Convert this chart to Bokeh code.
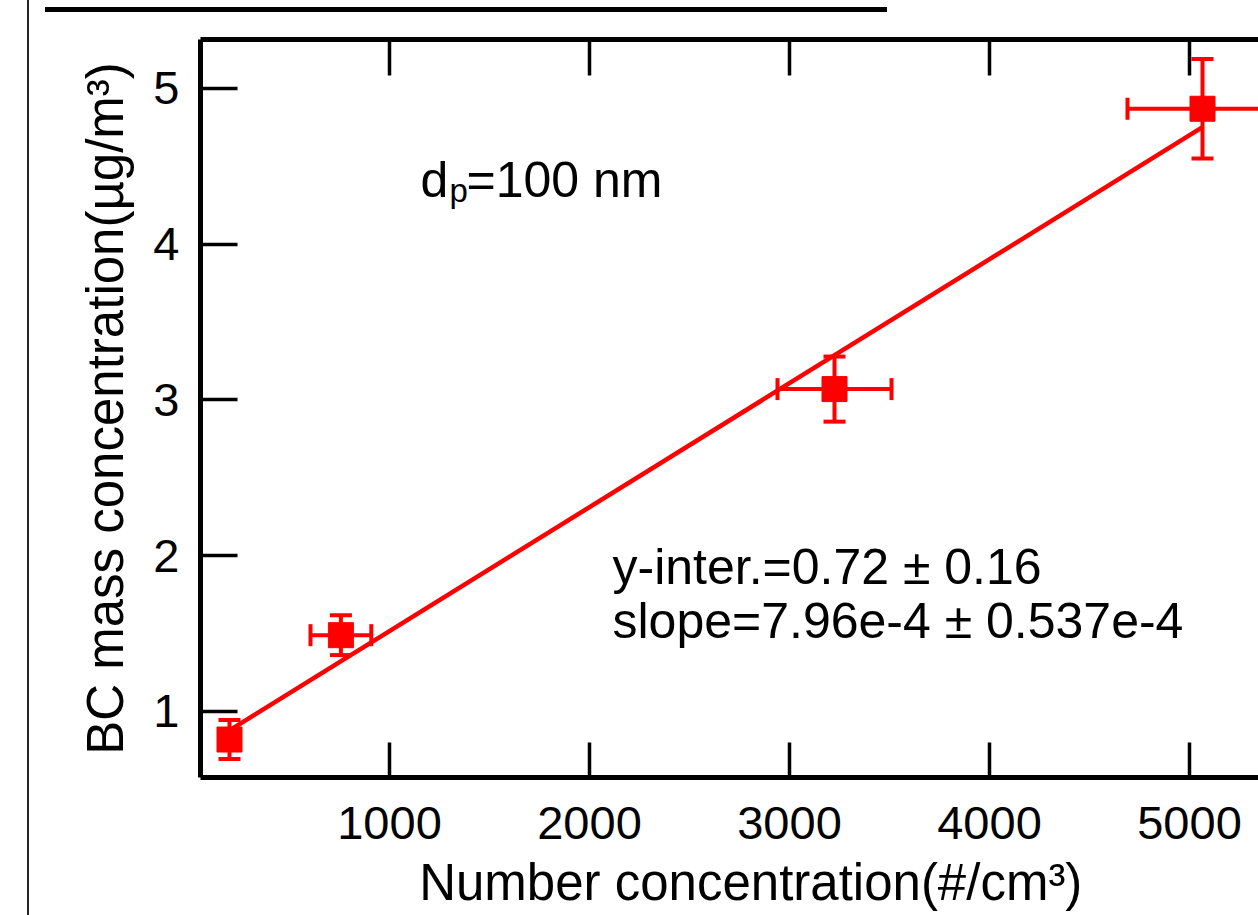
from bokeh.plotting import figure
from bokeh.models import (Range1d, LinearAxis, FixedTicker, Whisker, TeeHead,
                          ColumnDataSource, Label)
from bokeh.embed import file_html
from bokeh.resources import INLINE

# ---- data ----
number_conc = [200, 757, 3225, 5065]        # #/cm3
number_err = [30, 152, 285, 375]
bc_mass = [0.82, 1.49, 3.07, 4.87]          # ug/m3
bc_err = [0.125, 0.128, 0.209, 0.32]
fit_intercept = 0.72
fit_slope = 7.96e-4
x_ticks = [1000, 2000, 3000, 4000, 5000]
y_ticks = [1, 2, 3, 4, 5]
x_title = "\u00a0\u00a0\u00a0Number concentration(#/cm\u00b3)"
y_title = "BC mass concentration(\u00b5g/m\u00b3)"

# ---- layout ----
W, H = 1258, 915
X0, X1 = 55, 5345
Y0, Y1 = 0.5762, 5.3146
FONT = "Liberation Sans"

def dx(px):  # canvas pixel -> data x
    return X0 + (px - 200) / (1258 - 200) * (X1 - X0)

def dy(py):  # canvas pixel -> data y
    return Y1 - (py - 39) / (777 - 39) * (Y1 - Y0)

p = figure(width=W, height=H, output_backend="svg", toolbar_location=None,
           x_range=Range1d(X0, X1), y_range=Range1d(Y0, Y1),
           x_axis_location=None, y_axis_location=None,
           min_border_left=200, min_border_right=0, min_border_top=39,
           min_border_bottom=138,
           styles={"background-color": "white",
                   "background-image": "linear-gradient(#262626,#262626), linear-gradient(#000,#000)",
                   "background-size": "2px 100%, 842px 5px",
                   "background-position": "27px 0px, 45px 7px",
                   "background-repeat": "no-repeat"})
p.outline_line_color = None
p.xgrid.visible = False
p.ygrid.visible = False
p.background_fill_color = "white"
p.border_fill_color = None

def style_axis(ax, ticks, tick_in, show_labels=True, standoff=10):
    ax.ticker = FixedTicker(ticks=ticks)
    ax.axis_line_width = 5
    ax.axis_line_color = "black"
    ax.major_tick_in = tick_in
    ax.major_tick_out = 0
    ax.major_tick_line_width = 3.5
    ax.minor_tick_line_color = None
    ax.major_label_text_font = FONT
    ax.major_label_standoff = standoff
    ax.axis_label_text_font = FONT
    ax.axis_label_text_font_style = "normal"
    ax.axis_label_text_font_size = "51px"
    ax.axis_label_text_color = "black"
    if show_labels:
        ax.major_label_text_font_size = "47px"
        ax.major_label_text_color = "black"
    else:
        ax.major_label_text_font_size = "0px"
        ax.major_label_text_color = None

left = LinearAxis(axis_label=y_title)
style_axis(left, y_ticks, 37, True, 21)
left.axis_label_standoff = 16
p.add_layout(left, "left")
bottom = LinearAxis(axis_label=x_title)
style_axis(bottom, x_ticks, 35, True, 29)
bottom.axis_label_standoff = 12
p.add_layout(bottom, "below")
top = LinearAxis()
style_axis(top, x_ticks, 36, False, 0)
p.add_layout(top, "above")

# ---- data glyphs ----
src = ColumnDataSource(dict(
    x=number_conc, y=bc_mass,
    xl=[a - b for a, b in zip(number_conc, number_err)],
    xu=[a + b for a, b in zip(number_conc, number_err)],
    yl=[a - b for a, b in zip(bc_mass, bc_err)],
    yu=[a + b for a, b in zip(bc_mass, bc_err)],
))

def tee():
    return TeeHead(size=22, line_color="red", line_width=4)

p.add_layout(Whisker(source=src, base="x", lower="yl", upper="yu", dimension="height",
                     line_color="red", line_width=4, upper_head=tee(), lower_head=tee()))
p.add_layout(Whisker(source=src, base="y", lower="xl", upper="xu", dimension="width",
                     line_color="red", line_width=4, upper_head=tee(), lower_head=tee()))

fx = [min(number_conc), max(number_conc)]
fy = [fit_intercept + fit_slope * v for v in fx]
p.line(fx, fy, line_color="red", line_width=4.5)

p.scatter("x", "y", source=src, marker="square", size=25, fill_color="red",
          line_color="red")

# ---- texts ----
def lab(text, px, py, size):
    p.add_layout(Label(x=dx(px), y=dy(py), text=text,
                       text_font=FONT, text_font_size=f"{size}px",
                       text_color="black", text_baseline="alphabetic",
                       text_align="left"))

lab("d", 420, 179, 50)
lab("p", 449, 190, 33)
lab("=100 nm", 466, 179, 50)
lab("y-inter.=0.72 \u00b1 0.16", 612, 566, 50)
lab("slope=7.96e-4 \u00b1 0.537e-4", 612, 620, 50)

open("out.html", "w").write(file_html(p, INLINE))
